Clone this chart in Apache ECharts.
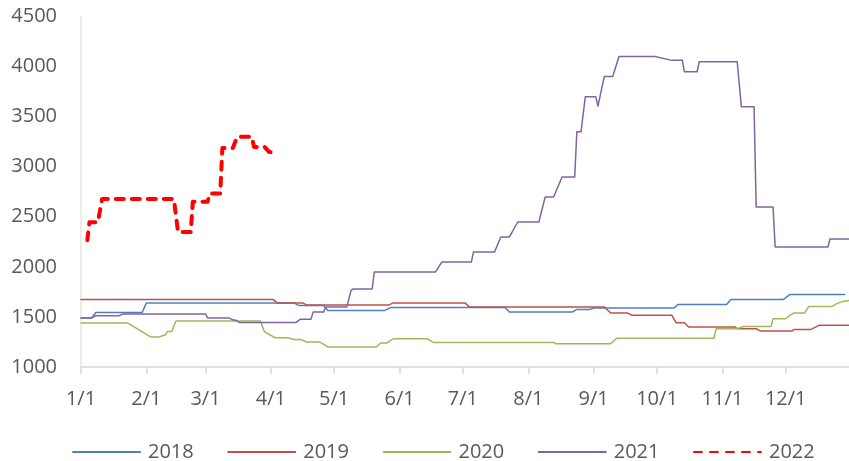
<!DOCTYPE html>
<html>
<head>
<meta charset="utf-8">
<script src="https://cdn.jsdelivr.net/npm/echarts@6/dist/echarts.min.js"></script>
<style>html,body{margin:0;padding:0;background:#fff}#c{width:849px;height:461px}</style>
</head>
<body>
<div id="c"></div>
<script>
// Days of a year, labelled m/d (x categories)
var monthLengths = [31,28,31,30,31,30,31,31,30,31,30,31];
var days = [];
for (var m = 0; m < 12; m++) for (var d = 1; d <= monthLengths[m]; d++) days.push((m + 1) + '/' + d);

var yTicks = [1000, 1500, 2000, 2500, 3000, 3500, 4000, 4500];
var seriesNames = ['2018', '2019', '2020', '2021', '2022'];

var s2018 = [['1/1',1490],['1/6',1490],['1/8',1545],['1/30',1545],['2/1',1640],['4/12',1640],['4/14',1615],
  ['4/26',1615],['4/28',1565],['5/25',1565],['5/28',1595],['7/21',1595],['7/23',1550],['8/22',1550],
  ['8/24',1575],['8/30',1575],['9/1',1588],['10/9',1588],['10/11',1625],['11/3',1625],['11/5',1675],
  ['11/30',1675],['12/3',1725],['12/29',1725]];

var s2019 = [['1/1',1675],['4/2',1675],['4/4',1640],['4/16',1640],['4/18',1620],['5/27',1620],['5/29',1640],
  ['7/2',1640],['7/4',1600],['9/6',1600],['9/9',1540],['9/17',1540],['9/19',1518],['10/8',1518],
  ['10/10',1442],['10/14',1442],['10/16',1400],['11/7',1400],['11/8',1382],['11/17',1382],['11/19',1360],
  ['12/4',1360],['12/5',1375],['12/13',1375],['12/17',1418],['12/31',1418]];

var s2020 = [['1/1',1440],['1/23',1440],['2/3',1300],['2/7',1300],['2/10',1322],['2/11',1355],['2/13',1355],
  ['2/15',1460],['3/27',1460],['3/29',1350],['4/3',1292],['4/9',1292],['4/12',1275],['4/15',1275],
  ['4/18',1250],['4/24',1250],['4/28',1200],['5/21',1200],['5/23',1240],['5/26',1240],['5/29',1282],
  ['6/14',1282],['6/17',1245],['8/13',1245],['8/14',1232],['9/9',1232],['9/12',1288],['10/28',1288],
  ['10/29',1382],['11/8',1382],['11/11',1405],['11/24',1405],['11/25',1482],['12/1',1482],['12/3',1515],
  ['12/5',1540],['12/10',1540],['12/12',1605],['12/23',1605],['12/25',1630],['12/28',1655],['12/31',1665]];

var s2021 = [['1/1',1490],['1/6',1490],['1/8',1512],['1/19',1512],['1/21',1530],['3/1',1530],['3/2',1490],
  ['3/12',1490],['3/14',1470],['3/15',1470],['3/17',1445],['4/13',1445],['4/15',1478],['4/20',1478],
  ['4/21',1548],['4/26',1548],['4/27',1600],['5/7',1600],['5/9',1765],['5/10',1780],['5/19',1780],
  ['5/20',1948],['6/18',1948],['6/21',2048],['7/5',2048],['7/6',2148],['7/16',2148],['7/19',2298],
  ['7/23',2298],['7/27',2448],['8/6',2448],['8/9',2698],['8/13',2698],['8/17',2898],['8/23',2898],
  ['8/24',3348],['8/26',3348],['8/28',3698],['9/2',3698],['9/3',3605],['9/6',3900],['9/10',3900],
  ['9/13',4100],['9/30',4100],['10/8',4062],['10/13',4062],['10/14',3948],['10/20',3948],['10/21',4048],
  ['11/8',4048],['11/10',3598],['11/16',3598],['11/17',2598],['11/25',2598],['11/26',2198],['12/21',2198],
  ['12/22',2278],['12/31',2278]];

var s2022 = [['1/4',2265],['1/5',2445],['1/9',2445],['1/11',2678],['2/14',2678],['2/16',2348],['2/22',2348],
  ['2/23',2650],['3/2',2650],['3/3',2732],['3/8',2732],['3/9',3188],['3/14',3188],['3/16',3298],
  ['3/23',3298],['3/24',3198],['3/29',3198],['3/31',3150],['4/2',3140]];

var FONT = '"Open Sans", "Noto Sans", sans-serif';
var TXT = '#595959';
function isMonthStart(i, v) { return /\/1$/.test(v); }

function lineSeries(name, data, color, width, type) {
  return {
    name: name, type: 'line', data: data, symbol: 'none', showSymbol: false,
    lineStyle: { color: color, width: width, type: type || 'solid', cap: 'round', join: 'round' },
    itemStyle: { color: color }, emphasis: { disabled: true }, animation: false
  };
}

var chart = echarts.init(document.getElementById('c'), null, { renderer: 'canvas' });
chart.setOption({
  animation: false,
  backgroundColor: '#ffffff',
  grid: { left: 81, right: 0, top: 16.5, bottom: 94, containLabel: false },
  xAxis: {
    type: 'category', data: days, boundaryGap: false,
    axisLine: { show: true, lineStyle: { color: '#d9d9d9', width: 1.5 } },
    axisTick: { show: true, interval: isMonthStart, length: 7, lineStyle: { color: '#d9d9d9', width: 1.5 } },
    axisLabel: { interval: isMonthStart, margin: 22, color: TXT, fontSize: 20, fontFamily: FONT, lineHeight: 20 },
    splitLine: { show: false }
  },
  yAxis: {
    type: 'value', min: yTicks[0], max: yTicks[yTicks.length - 1], interval: 500,
    axisLine: { show: true, lineStyle: { color: '#e9e7dd', width: 1.5 } },
    axisTick: { show: false },
    axisLabel: { margin: 24, color: TXT, fontSize: 20, fontFamily: FONT, formatter: function (v) { return String(v); } },
    splitLine: { show: false }
  },
  legend: {
    left: 67, top: 436, padding: 5, itemWidth: 67, itemHeight: 22, itemGap: 33.5, selectedMode: false,
    data: seriesNames,
    itemStyle: { color: 'rgba(0,0,0,0)', borderWidth: 0, opacity: 0 },
    textStyle: { color: TXT, fontSize: 20, fontFamily: FONT, lineHeight: 22, padding: [0, 0, 0, 3] }
  },
  series: [
    lineSeries(seriesNames[0], s2018, '#4F81BD', 1.5),
    lineSeries(seriesNames[1], s2019, '#C0504D', 1.5),
    lineSeries(seriesNames[2], s2020, '#9BBB59', 1.5),
    lineSeries(seriesNames[3], s2021, '#8064A2', 1.5),
    lineSeries(seriesNames[4], s2022, '#FF0000', 4, [8, 8])
  ]
});
</script>
</body>
</html>
